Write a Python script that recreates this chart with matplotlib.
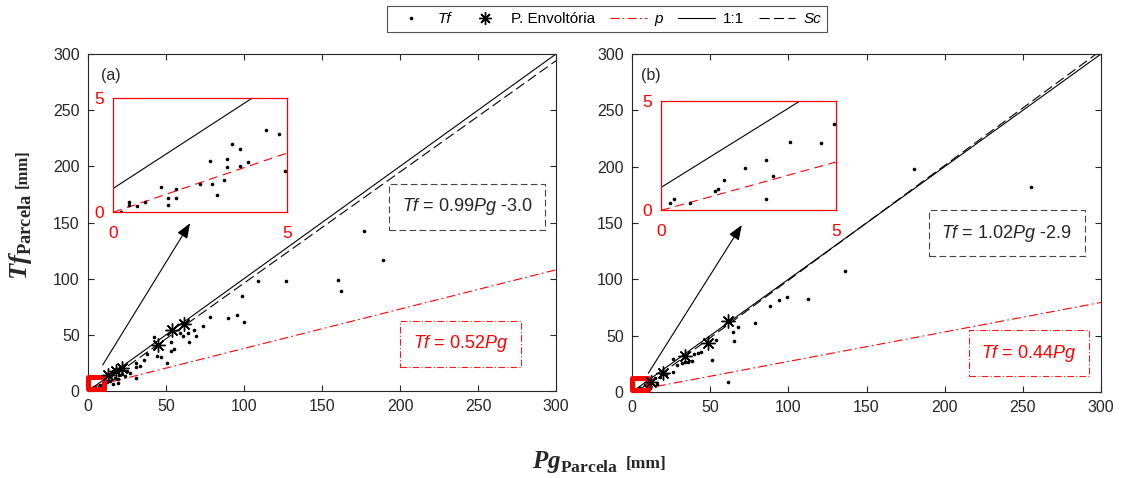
#!/usr/bin/env python3
"""Throughfall vs gross precipitation, two plots (a) and (b)."""

import matplotlib.pyplot as plt
from matplotlib.lines import Line2D
from matplotlib.patches import Rectangle
import numpy as np

plt.rcParams['font.family'] = ['Liberation Sans', 'DejaVu Sans']
plt.rcParams['mathtext.fontset'] = 'custom'
plt.rcParams['mathtext.it'] = 'Liberation Sans:italic'
plt.rcParams['mathtext.bf'] = 'Liberation Serif:bold:italic'
plt.rcParams['mathtext.rm'] = 'Liberation Serif:bold'

# Panel (a) data
pg_a = [189, 177, 109, 127, 160, 162, 98.5, 78, 89.5, 95.5, 100, 74, 68, 69.5,
        64, 64.5, 61, 59, 53.5, 53.5, 55, 42, 44.5, 46.5, 50.5, 38, 36, 31,
        33.5, 31, 30.5, 25, 19.5, 16, 19.5, 22, 27, 24, 14, 12, 10, 8, 17, 20]
tf_a = [117, 142, 98, 98, 99, 89, 85, 66, 65, 68, 61, 58, 54, 49,
        52, 44, 49, 52, 44, 36, 37, 48, 31, 30, 25, 33, 28, 25,
        22, 21, 12, 18, 11, 6, 7, 15, 16, 13, 9, 8, 6, 5, 12, 14]
env_pg_a = [61.5, 54, 44.6, 21.5, 18.2, 13]
env_tf_a = [60, 54.3, 41.2, 20.4, 17.8, 13.8]
ins_pg_a = [0.21, 0.44, 0.44, 0.67, 0.9, 1.38, 1.58, 1.58, 1.81, 1.81, 2.5, 2.78,
            2.83, 2.98, 3.19, 3.26, 3.27, 3.42, 3.65, 3.65, 3.88, 4.39, 4.78, 4.94]
ins_tf_a = [0.03, 0.47, 0.32, 0.26, 0.47, 1.11, 0.63, 0.32, 1.02, 0.64, 1.23, 2.25,
            1.23, 0.77, 1.43, 2.34, 1.99, 3.01, 2.78, 2.05, 2.21, 3.6, 3.42, 1.8]

# Panel (b) data
pg_b = [180.4, 255.3, 136.4, 112.4, 99.1, 94.3, 88.2, 78.5, 67.6, 64.4, 65.5,
        61.1, 53.8, 51, 44.1, 42, 39.4, 38.4, 36, 34, 32, 28.6, 26.4, 26, 16.3,
        22, 18, 15, 13, 10, 8]
tf_b = [197.6, 181.9, 107, 82.6, 84.2, 82, 76.5, 61, 57.6, 53, 45.1,
        8.9, 46.1, 28.7, 35.6, 34.5, 33.3, 27.5, 26.7, 27, 26, 23.6, 29, 17.8, 7.4,
        16, 13, 12, 10, 7, 6]
env_pg_b = [61.6, 48.5, 33.6, 20, 12]
env_tf_b = [63.2, 43.5, 31.9, 17.1, 9.2]
ins_pg_b = [0.24, 0.36, 0.81, 1.53, 1.62, 1.80, 2.40, 2.99, 2.99, 3.19, 3.69, 4.58, 4.94]
ins_tf_b = [0.35, 0.50, 0.35, 0.90, 0.96, 1.38, 1.93, 2.29, 0.50, 1.58, 3.10, 3.07, 3.94]

# fitted lines: (slope, intercept) as drawn
sc_a = (0.99, -3.0)
sc_b = (1.02, -2.9)
p_main_a = (0.35, 2.9)
p_main_b = (0.262, 0.9)
p_ins_a = 0.52
p_ins_b = 0.44
one_ins = (0.99, 1.05)

labels_sc = [r'$\mathit{Tf}$ = 0.99$\mathit{Pg}$ -3.0', r'$\mathit{Tf}$ = 1.02$\mathit{Pg}$ -2.9']
labels_p = [r'$\mathit{Tf}$ = 0.52$\mathit{Pg}$', r'$\mathit{Tf}$ = 0.44$\mathit{Pg}$']

W, H = 1123, 478
fig = plt.figure(figsize=(W / 100, H / 100), dpi=100)

main_pos = [[88, 54, 556, 391], [632, 54, 1101, 392]]
ins_pos = [[113.3, 98.3, 287, 212.3], [661.3, 100.7, 835.7, 210.3]]
box_xy = [[(243, 163.8), (238.8, 42.1)], [(239.8, 140.9), (253.9, 34.3)]]
arrows = [[(9.4, 23.1), (65.4, 149.3)], [(10.4, 16.6), (70.2, 148.2)]]
tick_col = '#262626'

data = [(pg_a, tf_a, env_pg_a, env_tf_a, ins_pg_a, ins_tf_a, sc_a, p_main_a, p_ins_a),
        (pg_b, tf_b, env_pg_b, env_tf_b, ins_pg_b, ins_tf_b, sc_b, p_main_b, p_ins_b)]

for i, (pg, tf, epg, etf, ipg, itf, sc, pm, pin) in enumerate(data):
    l, t, r, b = main_pos[i]
    ax = fig.add_axes([l / W, 1 - b / H, (r - l) / W, (b - t) / H])
    x = np.array([0, 300])
    ax.plot(x, x, color='k', lw=0.8, zorder=2)
    xs = np.array([3, 300])
    ax.plot(xs, sc[0] * xs + sc[1], color='k', lw=0.8, ls=(0, (9, 4)), zorder=2)
    xp = np.array([5, 300])
    ax.plot(xp, pm[0] * xp + pm[1], color='red', lw=0.8, ls=(0, (8, 3, 1.5, 3)), zorder=2)
    ax.plot(pg + ipg, tf + itf, 'o', color='k', ms=2.6, mew=0, zorder=3)
    ax.plot(epg, etf, ls='none', marker=(8, 2, 0), color='k', ms=10, mew=1.0, zorder=4)
    ax.add_patch(Rectangle((0.2, 2.2), 9.8, 10, fill=False, ec='red', lw=3.6,
                           joinstyle='round', clip_on=False, zorder=3))
    (x0, y0), (x1, y1) = arrows[i]
    ax.annotate('', xy=(x1, y1), xytext=(x0, y0),
                arrowprops=dict(arrowstyle='-|>,head_length=0.9,head_width=0.35',
                                color='k', lw=0.8, shrinkA=0, shrinkB=0))
    ax.text(14.5 if i == 0 else 12, 281, '(a)' if i == 0 else '(b)', fontsize=11.5,
            va='center', ha='center', color=tick_col)
    (bx, by), (rx, ry) = box_xy[i]
    ax.text(bx, by, labels_sc[i], fontsize=13, ha='center', va='center', color=tick_col,
            bbox=dict(boxstyle='square,pad=0.7', fc='white', ec='#444444', ls=(0, (6, 3)), lw=0.8))
    ax.text(rx, ry, labels_p[i], fontsize=13, ha='center', va='center', color='red',
            bbox=dict(boxstyle='square,pad=0.7', fc='white', ec='red', ls=(0, (6, 2, 1, 2)),
                      lw=0.8, alpha=0.9))
    ax.set_xlim(0, 300)
    ax.set_ylim(0, 300)
    ax.set_xticks(range(0, 301, 50))
    ax.set_yticks(range(0, 301, 50))
    ax.tick_params(direction='in', top=True, right=True, length=4, width=0.8,
                   labelsize=11.5, colors=tick_col, pad=6)
    for s in ax.spines.values():
        s.set_color(tick_col)
        s.set_linewidth(0.8)

    # inset
    l, t, r, b = ins_pos[i]
    axi = fig.add_axes([l / W, 1 - b / H, (r - l) / W, (b - t) / H])
    xi = np.array([0, 5])
    axi.plot(xi, one_ins[0] * xi + one_ins[1], color='k', lw=0.8)
    axi.plot(xi, pin * xi, color='red', lw=0.8, ls=(0, (8, 5)))
    axi.plot(ipg, itf, 'o', color='k', ms=2.6, mew=0)
    axi.set_xlim(0, 5)
    axi.set_ylim(0, 5)
    axi.set_xticks([0, 5])
    axi.set_yticks([0, 5])
    axi.tick_params(length=0, labelsize=12.5, labelcolor='red')
    axi.tick_params(axis='x', pad=10)
    axi.tick_params(axis='y', pad=7)
    for s in axi.spines.values():
        s.set_color('red')
        s.set_linewidth(0.9)

# legend
handles = [Line2D([], [], ls='none', marker='o', color='k', ms=2.6, mew=0),
           Line2D([], [], ls='none', marker=(8, 2, 0), color='k', ms=9, mew=1.0),
           Line2D([], [], color='red', lw=0.8, ls=(0, (8, 3, 1.5, 3))),
           Line2D([], [], color='k', lw=0.8),
           Line2D([], [], color='k', lw=0.8, ls=(0, (9, 4)))]
names = ['Tf', 'P. Envoltória', 'p', '1:1', 'Sc']
leg = fig.legend(handles, names, loc='center', bbox_to_anchor=(607 / W, 1 - 19 / H),
                 ncol=5, frameon=True, fancybox=False, fontsize=11, handlelength=2.4,
                 columnspacing=1.0, handletextpad=0.5, borderpad=0.4,
                 edgecolor=tick_col)
leg.get_frame().set_linewidth(0.8)
for j in (0, 2, 4):
    leg.get_texts()[j].set_fontstyle('italic')

# axis labels
fig.text(618 / W, 1 - 468 / H, r'$\mathbf{Pg}_{\mathrm{Parcela}}$', fontsize=18,
         ha='right', va='baseline', color=tick_col)
fig.text(626 / W, 1 - 468 / H, '[mm]', fontsize=12.5, fontweight='bold',
         family='Liberation Serif', ha='left', va='baseline', color=tick_col)
fig.text(27 / W, 1 - 194 / H, r'$\mathbf{Tf}_{\mathrm{Parcela}}$', fontsize=19,
         rotation=90, rotation_mode='anchor', ha='right', va='baseline', color=tick_col)
fig.text(27 / W, 1 - 188 / H, '[mm]', fontsize=12, fontweight='bold',
         family='Liberation Serif', rotation=90, rotation_mode='anchor',
         ha='left', va='baseline', color=tick_col)

fig.savefig('out.png', dpi=100)
